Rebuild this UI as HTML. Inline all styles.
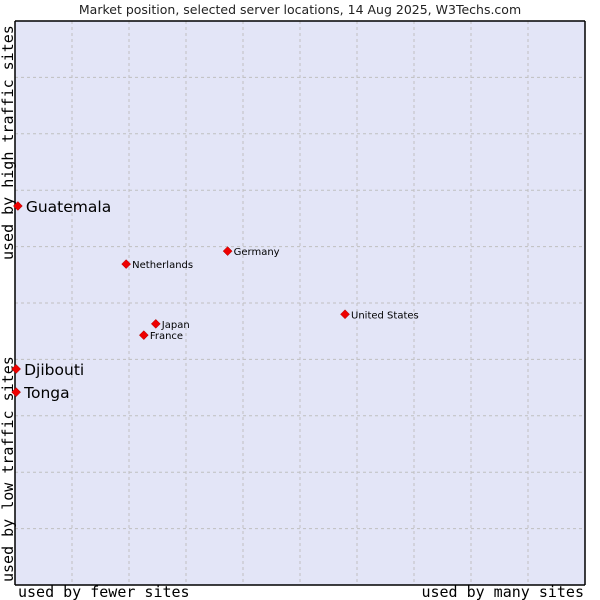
<!DOCTYPE html>
<html><head><meta charset="utf-8"><style>
body{margin:0;background:#fff;width:600px;height:600px;overflow:hidden}
svg{display:block;font-family:"DejaVu Sans","Liberation Sans",sans-serif}
</style></head><body>
<svg id="c" width="600" height="600">
<text x="300" y="14" text-anchor="middle" font-size="12.5" fill="#222">Market position, selected server locations, 14 Aug 2025, W3Techs.com</text>
<rect x="15" y="21" width="570" height="564" fill="#e3e5f7"/>
<g id="grid"></g>
<path d="M15,585 L15,21 M15,21 L585,21 M585,21 L585,585 M15,585 L585,585" stroke="#000" stroke-width="1.5" fill="none"/>
<text x="18" y="597" font-family="DejaVu Sans Mono,Liberation Mono,monospace" font-size="15">used by fewer sites</text>
<text x="584" y="597" text-anchor="end" font-family="DejaVu Sans Mono,Liberation Mono,monospace" font-size="15">used by many sites</text>
<text transform="translate(13,582) rotate(-90)" font-family="DejaVu Sans Mono,Liberation Mono,monospace" font-size="15">used by low traffic sites</text>
<text transform="translate(13,260) rotate(-90)" font-family="DejaVu Sans Mono,Liberation Mono,monospace" font-size="15">used by high traffic sites</text>
<g id="pts"></g>
</svg>
<script>
const names=["Guatemala","Germany","Netherlands","United States","Japan","France","Djibouti","Tonga"];
const xs=[0.5,37.3,19.5,57.9,24.7,22.6,0.2,0.2];
const ys=[67.2,59.2,56.9,48.0,46.3,44.3,38.3,34.2];
const big=[true,false,false,false,false,false,true,true];
const X=v=>15+v*5.7, Y=v=>585-v*5.64;
const ns="http://www.w3.org/2000/svg";
const g=document.getElementById('grid');
for(let k=1;k<10;k++){
 const l=document.createElementNS(ns,'line');
 l.setAttribute('x1',15+57*k);l.setAttribute('x2',15+57*k);l.setAttribute('y1',21);l.setAttribute('y2',585);
 l.setAttribute('stroke','#c0c0c0');l.setAttribute('stroke-dasharray','3,3');
 
 
 g.appendChild(l);
 const h=document.createElementNS(ns,'line');
 h.setAttribute('y1',21+56.4*k);h.setAttribute('y2',21+56.4*k);h.setAttribute('x1',15);h.setAttribute('x2',585);
 h.setAttribute('stroke','#c0c0c0');h.setAttribute('stroke-dasharray','3,3');
 
 
 g.appendChild(h);
}
const p=document.getElementById('pts');
names.forEach((n,i)=>{
 const x=X(xs[i]),y=Y(ys[i]);
 const d=document.createElementNS(ns,'path');
 d.setAttribute('d',`M${x},${y-4.5} L${x+4.5},${y} L${x},${y+4.5} L${x-4.5},${y} Z`);
 d.setAttribute('fill','#e00');d.setAttribute('stroke','#a00');d.setAttribute('stroke-width','0.5');
 
 
 p.appendChild(d);
 const t=document.createElementNS(ns,'text');
 t.setAttribute('x',x+(big[i]?8:6));t.setAttribute('y',y+(big[i]?6:4));
 t.setAttribute('font-size',big[i]?'15.5':'10');
 t.textContent=n;
 
 
 p.appendChild(t);
});
</script>
</body></html>
